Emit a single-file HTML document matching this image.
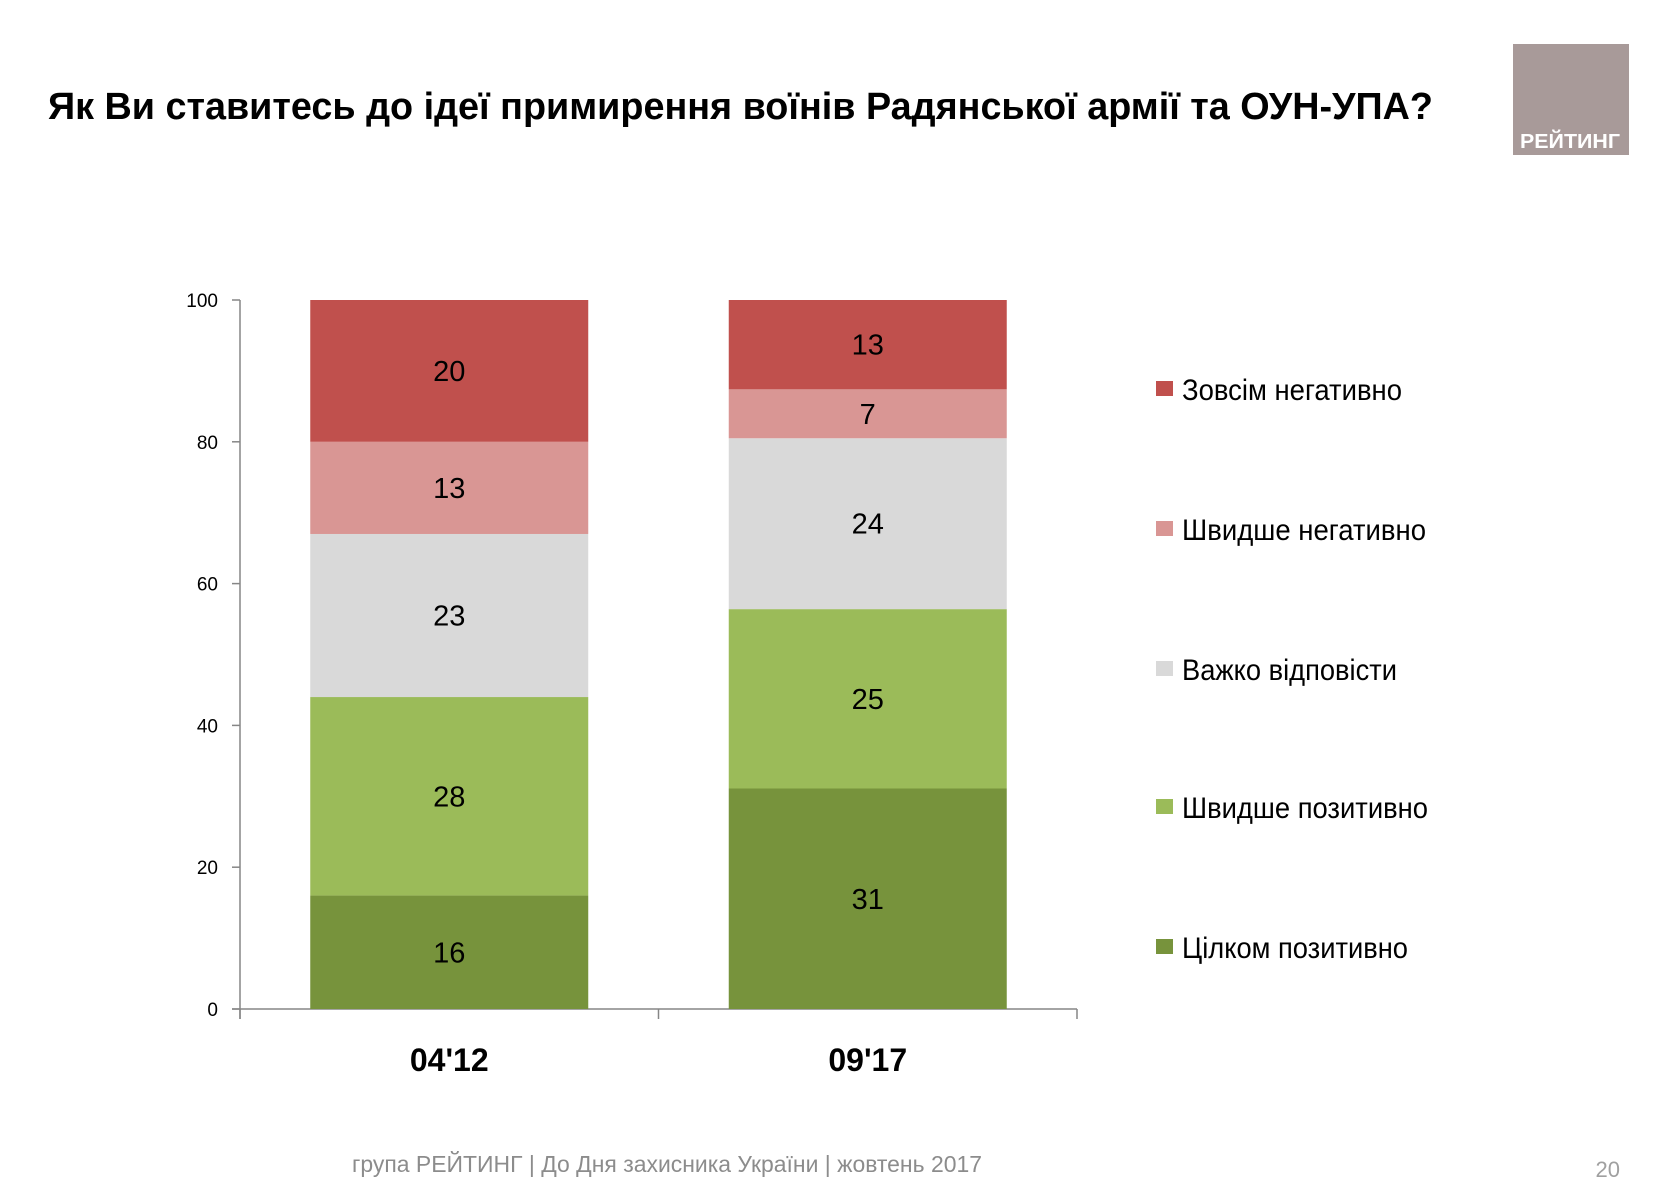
<!DOCTYPE html>
<html><head><meta charset="utf-8"><style>
body{margin:0;background:#fff;}
svg{display:block;font-family:"Liberation Sans","Noto Sans CJK SC",sans-serif;}
</style></head><body>
<svg id="chart" width="1654" height="1181" viewBox="0 0 1654 1181">
<text x="48" y="119" font-size="38" font-weight="bold" textLength="1385" lengthAdjust="spacingAndGlyphs">Як Ви ставитесь до ідеї примирення воїнів Радянської армії та ОУН-УПА?</text>
<g>
<rect x="1513" y="44" width="116" height="111" fill="#a89a99"/>
<text x="1520" y="148" font-size="20" font-weight="bold" fill="#fff" textLength="100" lengthAdjust="spacingAndGlyphs">РЕЙТИНГ</text>
</g>
<g id="plot"></g>
<text x="352" y="1172" font-size="23" fill="#8c8c8c" textLength="630" lengthAdjust="spacingAndGlyphs">група РЕЙТИНГ  |  До Дня захисника України |  жовтень 2017</text>
<text x="1620" y="1177" font-size="22" fill="#a0a0a0" text-anchor="end">20</text>
</svg>
<script>
const categories = ["04'12", "09'17"];
const seriesNames = ["Цілком позитивно","Швидше позитивно","Важко відповісти","Швидше негативно","Зовсім негативно"];
const fullyPositive = [16, 31.1];
const ratherPositive = [28, 25.3];
const hardToSay = [23, 24.1];
const ratherNegative = [13, 6.9];
const fullyNegative = [20, 12.6];
const yTicks = [0, 20, 40, 60, 80, 100];
const colors = ["#77933c","#9bbb59","#d9d9d9","#d99694","#c0504d"];
const legendLengths = [226, 246, 215, 244, 220];

const NS = "http://www.w3.org/2000/svg";
const g = document.getElementById('plot');
const X0 = 240, X1 = 1077, Y0 = 1009, Y100 = 300;
const yScale = v => Y0 - (v / 100) * (Y0 - Y100);
const band = (X1 - X0) / categories.length;
const xCenter = i => X0 + band * (i + 0.5);
const barW = 278;
function mk(tag, attrs){const e=document.createElementNS(NS,tag);for(const k in attrs)e.setAttribute(k,attrs[k]);g.appendChild(e);return e;}

let ax = mk('line',{x1:X0,y1:Y100,x2:X0,y2:Y0+10,stroke:'#868686','stroke-width':1.5});


let bx = mk('line',{x1:X0-8,y1:Y0,x2:X1,y2:Y0,stroke:'#868686','stroke-width':1.5});


for(let i=0;i<=categories.length;i++){
  const x = X0 + band*i;
  const t = mk('line',{x1:x,y1:Y0,x2:x,y2:Y0+10,stroke:'#868686','stroke-width':1.5});
  
  
}
yTicks.forEach(v=>{
  const y = yScale(v);
  const t = mk('line',{x1:X0-8,y1:y,x2:X0,y2:y,stroke:'#868686','stroke-width':1.5});
  
  
  const l = mk('text',{x:218,y:y+7,'font-size':19,'text-anchor':'end',fill:'#000'});
  l.textContent = v;
  
  
});

const series = [fullyPositive, ratherPositive, hardToSay, ratherNegative, fullyNegative];
categories.forEach((c,i)=>{
  let acc = 0;
  const cx = xCenter(i);
  series.forEach((s,k)=>{
    const v = s[i];
    const yTop = yScale(acc + v), yBot = yScale(acc);
    const r = mk('rect',{x:cx-barW/2,y:yTop,width:barW,height:yBot-yTop,fill:colors[k]});
    
    
    const t = mk('text',{x:cx,y:(yTop+yBot)/2+10,'font-size':29,'text-anchor':'middle',fill:'#000'});
    t.textContent = Math.round(v);
    
    
    acc += v;
  });
  const cl = mk('text',{x:cx,y:1071,'font-size':32,'font-weight':'bold','text-anchor':'middle',fill:'#000'});
  cl.textContent = c;
  
  
});

const legendY = [947, 807, 669, 529, 389];
seriesNames.forEach((n,k)=>{
  const y = legendY[k];
  const sw = mk('rect',{x:1156,y:y-8,width:17,height:15,fill:colors[k]});
  
  
  const t = mk('text',{x:1182,y:y+11,'font-size':30,fill:'#000',textLength:legendLengths[k],lengthAdjust:'spacingAndGlyphs'});
  t.textContent = n;
  
  
});
</script>
</body></html>
